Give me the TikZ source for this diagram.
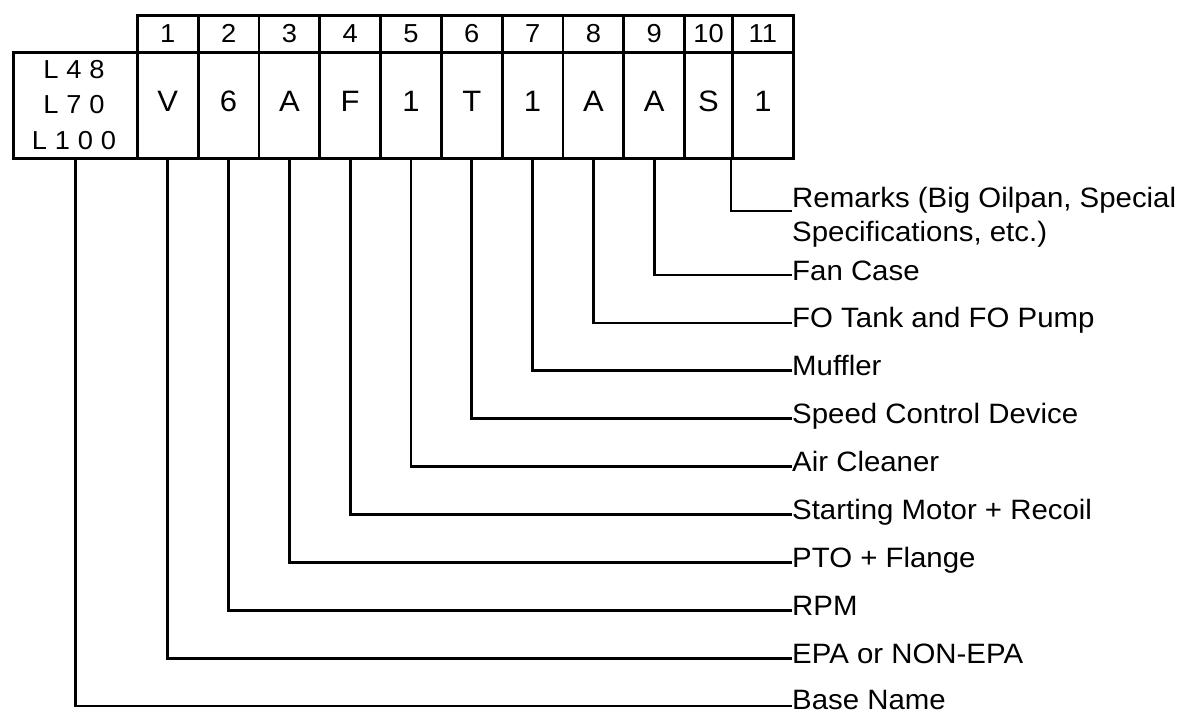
\documentclass[tikz,border=0pt]{standalone}
\usepackage{fontspec}
\setmainfont{Liberation Sans}
\newfontfamily\lblfont[FakeStretch=1.05]{Liberation Sans}
\begin{document}
\begin{tikzpicture}[x=1pt,y=-1pt,
  cell/.style={draw,line width=2.8pt,inner sep=0pt,anchor=north west,minimum height=#1},
  hd/.style={inner sep=0pt,font=\lblfont\fontsize{26}{26}\selectfont},
  bd/.style={inner sep=0pt,font=\lblfont\fontsize{29.5}{29.5}\selectfont},
  lbl/.style={inner sep=0pt,anchor=base west,font=\lblfont\fontsize{28}{34}\selectfont},
  conn/.style={line width=2.8pt}]
\useasboundingbox (0,0) rectangle (1177,713);
% table cells
\node[cell=106pt,minimum width=124pt] (box) at (12,51) {};
\foreach \i/\x/\w in {1/136/60.8,2/196.8/60.8,3/257.6/60.8,4/318.4/60.8,5/379.2/60.8,6/440/60.8,7/500.8/60.8,8/561.6/60.8,9/622.4/60.8,10/683.2/47.8,11/731/61}{
  \node[cell=37pt,minimum width=\w pt] (h\i) at (\x,14) {};
  \node[cell=106pt,minimum width=\w pt] (c\i) at (\x,51) {};
  \node[hd] at (h\i.center) {\i};
}
\foreach \i/\t in {1/V,2/6,3/A,4/F,5/1,6/T,7/1,8/A,9/A,10/S,11/1}{
  \node[bd] at ([yshift=4.5pt]c\i.center) {\t};
}
\node[hd,anchor=base] at (74,78) {L\hspace{0.3em}4\hspace{0.3em}8};
\node[hd,anchor=base] at (74,113) {L\hspace{0.3em}7\hspace{0.3em}0};
\node[hd,anchor=base] at (74,149) {L\hspace{0.3em}1\hspace{0.3em}0\hspace{0.3em}0};
% labels
\node[lbl] (l11) at (792,207) {\begin{tabular}[t]{@{}l@{}}Remarks (Big Oilpan, Special\\Specifications, etc.)\end{tabular}};
\node[lbl] (l9) at (792,280) {Fan Case};
\node[lbl] (l8) at (792,327.9) {FO Tank and FO Pump};
\node[lbl] (l7) at (792,375.8) {Muffler};
\node[lbl] (l6) at (792,423.7) {Speed Control Device};
\node[lbl] (l5) at (792,471.6) {Air Cleaner};
\node[lbl] (l4) at (792,519.5) {Starting Motor + Recoil};
\node[lbl] (l3) at (792,567.4) {PTO + Flange};
\node[lbl] (l2) at (792,615.3) {RPM};
\node[lbl] (l1) at (792,663.2) {EPA or NON-EPA};
\node[lbl] (l0) at (792,709) {Base Name};
% connectors
\draw[conn] (c11.south west) |- ([yshift=-4pt]l11.base west);
\foreach \i in {1,...,9}{
  \draw[conn] (c\i.south) |- ([yshift=5pt]l\i.base west);
}
\draw[conn] (box.south) |- ([yshift=3pt]l0.base west);
\end{tikzpicture}
\end{document}
